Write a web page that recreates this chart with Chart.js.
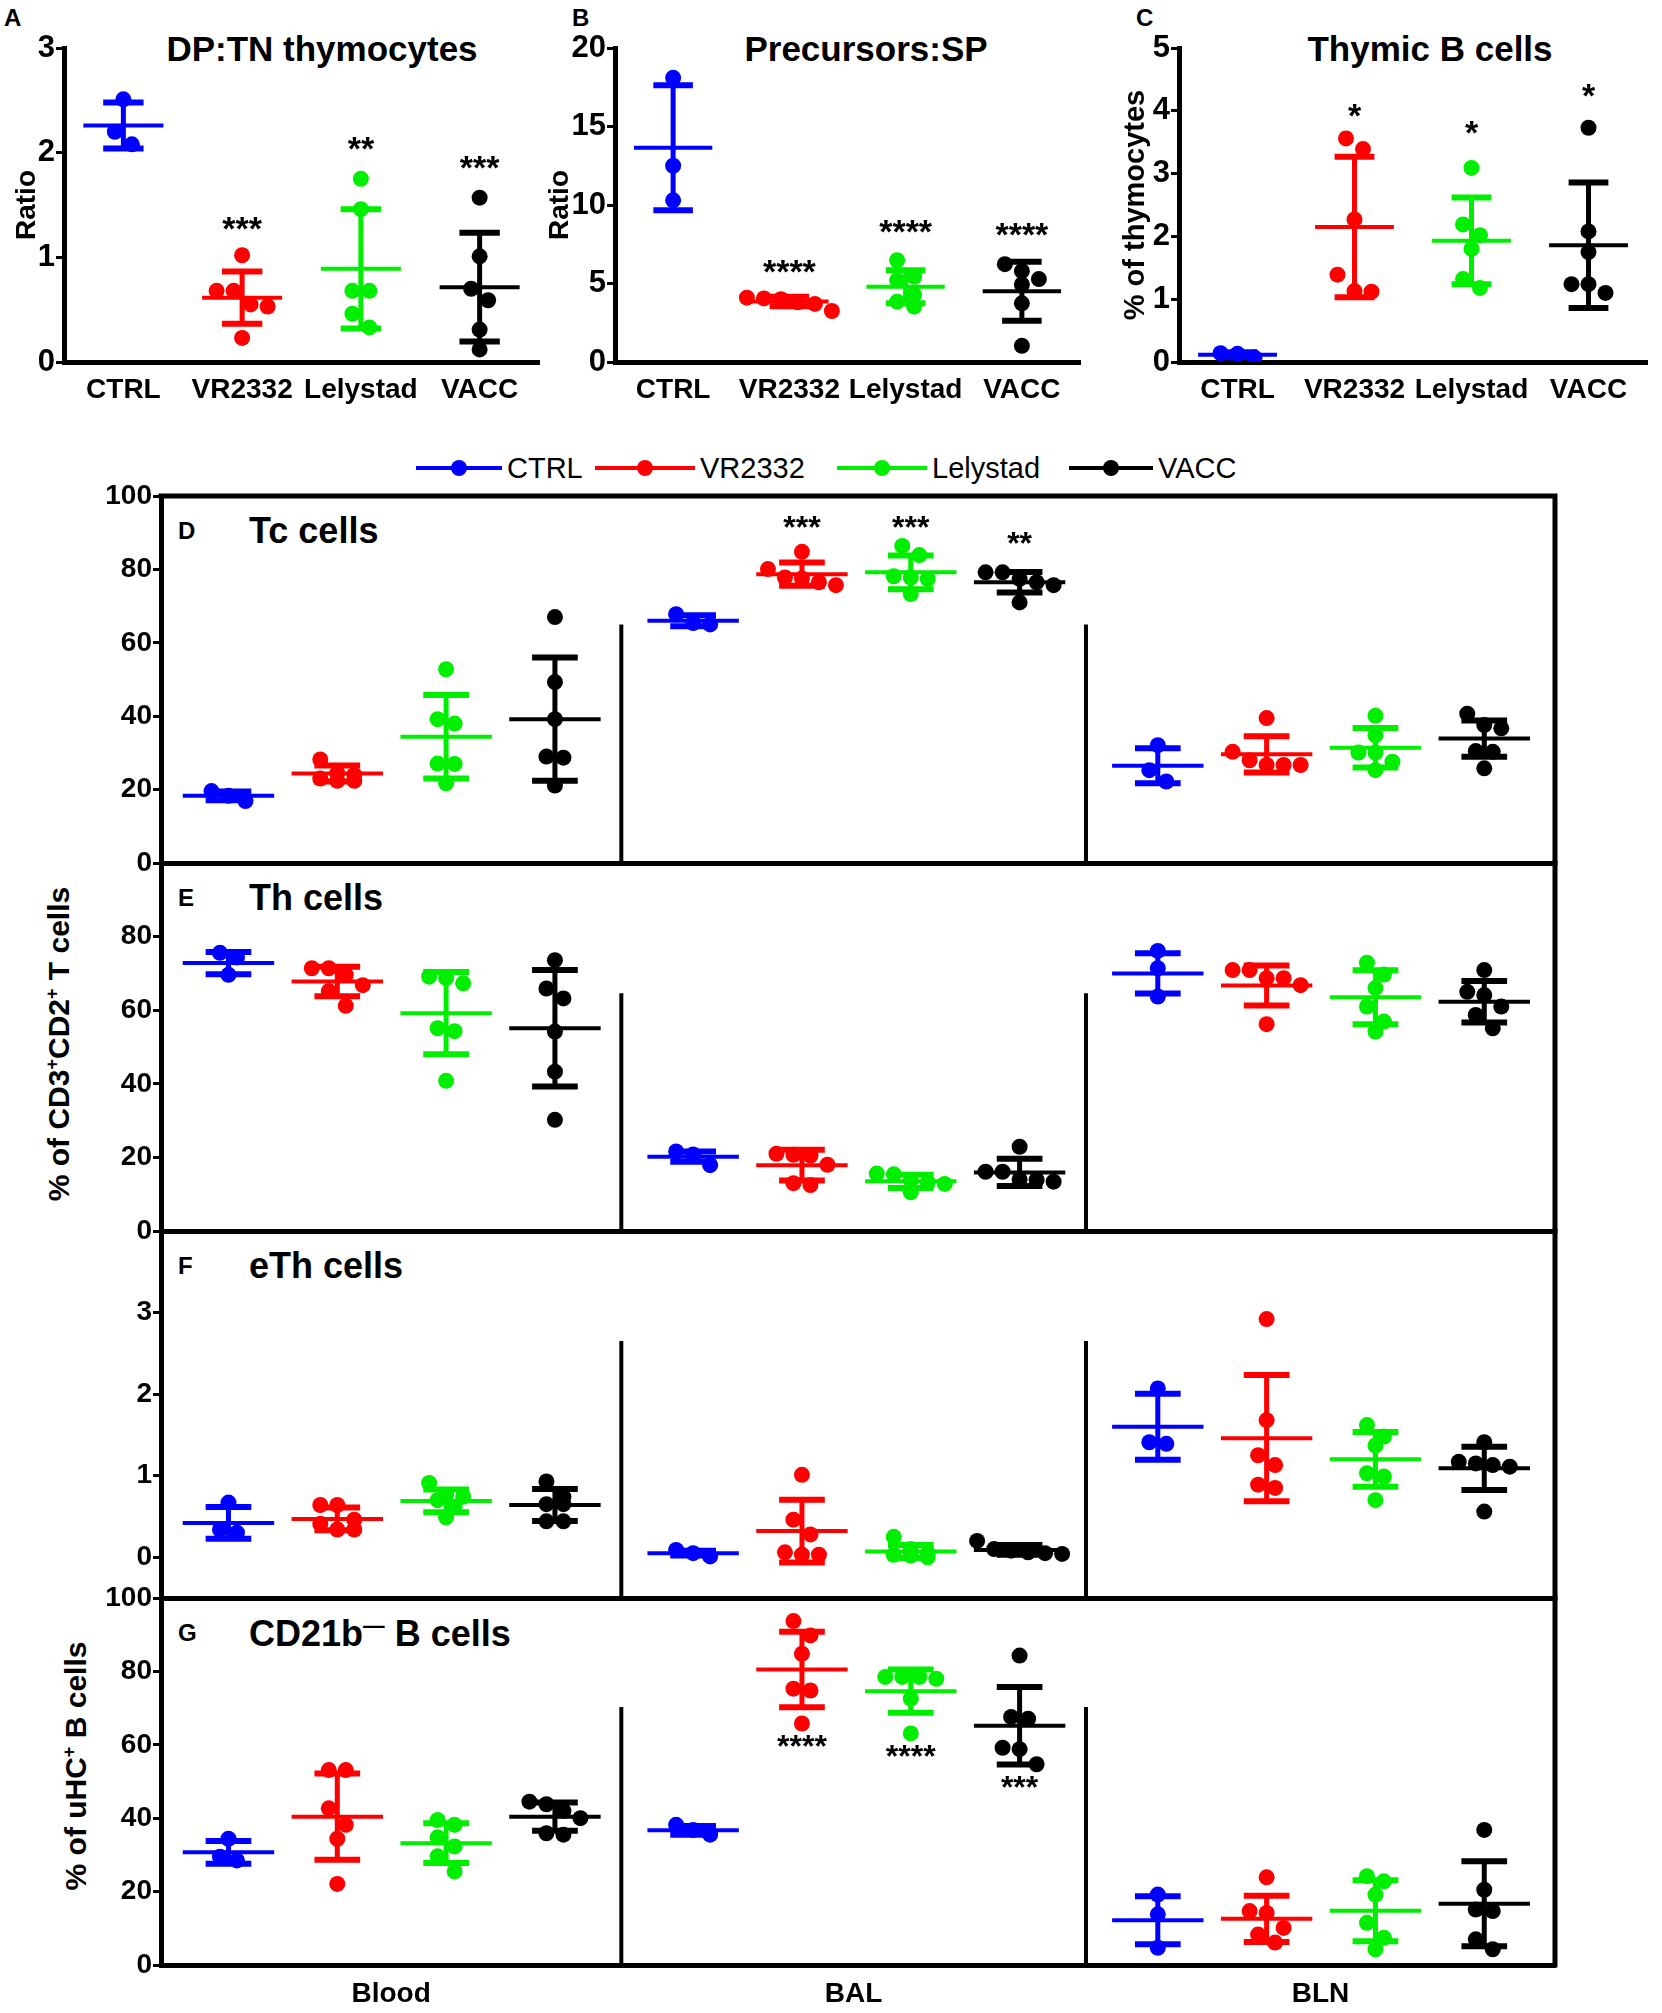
<!DOCTYPE html>
<html>
<head>
<meta charset="utf-8">
<script src="https://cdn.jsdelivr.net/npm/chart.js@4"></script>
<style>
  body { margin: 0; background: #fff; width: 1662px; height: 2013px; position: relative; overflow: hidden;
         font-family: 'Liberation Sans', Arial, sans-serif; color: #000; }
  canvas { position: absolute; }
  .t { position: absolute; font-weight: bold; white-space: nowrap; line-height: 1; }
  .c { transform: translate(-50%, -50%); }
  .v { transform: translate(-50%, -50%) rotate(-90deg); }
  .lg { position: absolute; top: 454px; height: 28px; display: flex; align-items: center; font-size: 29px; }
  .lg .ln { position: relative; height: 4px; margin-right: 5px; }
  .lg .ln i { position: absolute; left: 50%; top: -6px; margin-left: -8px; width: 16px; height: 16px; border-radius: 50%; }
  sup { font-size: 60%; }
</style>
</head>
<body>

<div class="t" style="left:4px;top:6px;font-size:24px">A</div>
<div class="t" style="left:572px;top:6px;font-size:24px">B</div>
<div class="t" style="left:1136px;top:6px;font-size:24px">C</div>
<div class="t c" style="left:322px;top:48px;font-size:35px">DP:TN thymocytes</div>
<div class="t c" style="left:866px;top:48px;font-size:35px">Precursors:SP</div>
<div class="t c" style="left:1430px;top:48px;font-size:35px">Thymic B cells</div>

<div class="lg" style="left:416px"><span class="ln" style="width:86px;background:#0000ff"><i style="background:#0000ff"></i></span>CTRL</div>
<div class="lg" style="left:595px"><span class="ln" style="width:100px;background:#ff0000"><i style="background:#ff0000"></i></span>VR2332</div>
<div class="lg" style="left:837px"><span class="ln" style="width:90px;background:#00ee00"><i style="background:#00ee00"></i></span>Lelystad</div>
<div class="lg" style="left:1069px"><span class="ln" style="width:84px;background:#000"><i style="background:#000"></i></span>VACC</div>

<div class="t" style="left:178px;top:519px;font-size:24px">D</div>
<div class="t" style="left:249px;top:513px;font-size:36px">Tc cells</div>
<div class="t" style="left:178px;top:886px;font-size:24px">E</div>
<div class="t" style="left:249px;top:880px;font-size:36px">Th cells</div>
<div class="t" style="left:178px;top:1254px;font-size:24px">F</div>
<div class="t" style="left:249px;top:1248px;font-size:36px">eTh cells</div>
<div class="t" style="left:178px;top:1621px;font-size:24px">G</div>
<div class="t" style="left:249px;top:1615px;font-size:36px">CD21b<sup>—</sup> B cells</div>

<div class="t v" style="left:58px;top:1044px;font-size:30px">% of CD3<sup>+</sup>CD2<sup>+</sup> T cells</div>
<div class="t v" style="left:75px;top:1766px;font-size:30px">% of uHC<sup>+</sup> B cells</div>

<script>
// groups and tissues
const groups = ['CTRL', 'VR2332', 'Lelystad', 'VACC'];
const tissues = ['Blood', 'BAL', 'BLN'];
const groupColors = ['#0000ff', '#ff0000', '#00ee00', '#000000'];

// A: DP:TN thymocytes (ratio)
const dpTnValues = [[2.51, 2.20, 2.08], [1.02, 0.68, 0.68, 0.55, 0.53, 0.23],
                    [1.75, 1.46, 0.68, 0.68, 0.46, 0.33], [1.57, 1.01, 0.70, 0.59, 0.31, 0.12]];
const dpTnMean = [2.26, 0.615, 0.89, 0.715];
const dpTnSd = [0.22, 0.25, 0.57, 0.52];
const dpTnStars = ['', '***', '**', '***'];
const dpTnStarY = [null, 1.29, 2.05, 1.875];

// B: Precursors:SP (ratio)
const precValues = [[18.1, 12.5, 10.3], [4.1, 4.05, 4.0, 3.8, 3.7, 3.25],
                    [6.48, 5.43, 5.2, 4.27, 3.84, 3.53], [6.23, 5.79, 5.28, 4.94, 3.74, 1.03]];
const precMean = [13.64, 3.85, 4.8, 4.5];
const precSd = [3.98, 0.3, 1.05, 1.88];
const precStars = ['', '****', '****', '****'];
const precStarY = [null, 5.85, 8.43, 8.2];

// C: Thymic B cells (% of thymocytes)
const thyBValues = [[0.14, 0.13, 0.07], [3.56, 3.39, 2.27, 1.39, 1.13, 1.12],
                    [3.09, 2.19, 2.02, 1.80, 1.32, 1.18], [3.73, 2.08, 1.75, 1.24, 1.24, 1.10]];
const thyBMean = [0.116, 2.15, 1.93, 1.86];
const thyBSd = [0.04, 1.12, 0.69, 1.0];
const thyBStars = ['', '*', '*', '*'];
const thyBStarY = [null, 3.95, 3.68, 4.26];

// D: Tc cells, [tissue][group]
const tcValues = [
  [[19.6, 18.3, 16.9], [28.2, 24.5, 24, 23, 22.4, 22.4], [52.8, 39.2, 38, 27.1, 27, 21.7], [67, 49.3, 39.2, 29, 28.7, 21.1]],
  [[67.8, 65.4, 65.0], [84.8, 80.1, 77.8, 77.5, 76.5, 75.7], [86.4, 83.9, 78.1, 77.8, 77.4, 73.3], [79.2, 79.2, 77.4, 76.5, 75.7, 71.0]],
  [[32.1, 25.3, 22.2], [39.5, 30.3, 28, 26.7, 26.7, 26.7], [40.1, 34.8, 30.1, 30.1, 27.6, 25.3], [40.7, 37.6, 36.7, 30.5, 30.3, 25.8]]
];
const tcMean = [[18.3, 24.4, 34.4, 39.2], [66, 78.7, 79.2, 76.5], [26.5, 29.6, 31.4, 33.9]];
const tcSd = [[1.2, 2.2, 11.4, 16.8], [1.5, 3.15, 4.6, 2.8], [4.75, 4.95, 5.4, 4.95]];
const tcStars = [['', '', '', ''], ['', '***', '***', '**'], ['', '', '', '']];
const tcStarY = [[null, null, null, null], [null, 92, 92, 87.5], [null, null, null, null]];

// E: Th cells
const thValues = [
  [[75.6, 74.3, 69.6], [71.4, 71.4, 69.6, 66.8, 65.2, 61.2], [69.1, 68.7, 67.3, 55.1, 54.3, 40.8], [73.6, 65.9, 63.2, 54.2, 43.3, 30.2]],
  [[21.6, 20.8, 17.9], [21, 20.7, 20.5, 18, 13, 12.5], [15.6, 15.4, 13.8, 13.2, 12.8, 10.5], [22.9, 16.1, 16.1, 14, 13.9, 13.4]],
  [[76.1, 71.4, 63.7], [70.9, 70.9, 68.7, 68.7, 66.8, 56.2], [72.9, 69.7, 66, 61, 56.9, 54.2], [70.9, 65, 64.1, 61, 58.7, 55.1]]
];
const thMean = [[72.8, 67.8, 59.2, 55.1], [20.2, 17.9, 13.5, 15.9], [70, 66.7, 63.5, 62.3]];
const thSd = [[3, 4, 11.2, 15.8], [1.4, 4.15, 1.8, 3.7], [5.45, 5.45, 7.35, 5.65]];

// F: eTh cells
const ethValues = [
  [[0.67, 0.34, 0.30], [0.64, 0.64, 0.46, 0.41, 0.34, 0.34], [0.91, 0.76, 0.74, 0.70, 0.62, 0.49], [0.93, 0.74, 0.65, 0.65, 0.44, 0.44]],
  [[0.09, 0.05, 0.01], [1.01, 0.46, 0.28, 0.06, 0.03, 0.03], [0.25, 0.10, 0.05, 0.03, 0.02, 0.0], [0.20, 0.10, 0.08, 0.06, 0.05, 0.04]],
  [[2.07, 1.41, 1.39], [2.92, 1.68, 1.25, 1.13, 0.89, 0.85], [1.62, 1.48, 1.37, 1.03, 0.99, 0.70], [1.41, 1.17, 1.15, 1.13, 1.11, 0.56]]
];
const ethMean = [[0.42, 0.47, 0.69, 0.64], [0.05, 0.32, 0.07, 0.09], [1.6, 1.46, 1.2, 1.09]];
const ethSd = [[0.195, 0.14, 0.14, 0.195], [0.03, 0.385, 0.08, 0.06], [0.405, 0.775, 0.335, 0.265]];

// G: CD21b- B cells
const cd21Values = [
  [[34.4, 29.5, 28.5], [53.1, 53.1, 42.7, 38.2, 34.4, 22.1], [39.5, 38.2, 34.8, 32.3, 29.6, 25.5], [44.5, 43.8, 42, 40, 35.9, 35.5]],
  [[38.2, 36.8, 35.5], [93.7, 89.8, 84.8, 75.3, 74.8, 65.8], [78.5, 78.5, 78.5, 78, 72.6, 63.1], [84.3, 67.6, 67.1, 59.2, 58.8, 54.7]],
  [[19.2, 13.8, 4.7], [23.9, 14.7, 14.2, 10.1, 8.3, 6.1], [24.2, 22.8, 19.2, 11.5, 7.4, 4.3], [36.8, 20.5, 15.1, 14.7, 7.0, 4.3]]
];
const cd21Mean = [[30.7, 40.4, 33.2, 40.4], [36.7, 80.5, 74.6, 65.2], [12.2, 12.6, 14.8, 16.7]];
const cd21Sd = [[3.1, 11.75, 5.4, 3.85], [1.2, 10.3, 5.9, 10.55], [6.55, 6.3, 8.3, 11.6]];
const cd21Stars = [['', '', '', ''], ['', '****', '****', '***'], ['', '', '', '']];
const cd21StarY = [[null, null, null, null], [null, 60.1, 57.2, 48.9], [null, null, null, null]];

// where the tissue separators start, per panel (in y units)
const sepTops = [65, 64.6, 2.65, 70.3];

// ---------- drawing ----------
const TW = 4.27;            // distance between tissue blocks on the x scale
const G0 = 0.62;            // first group centre inside a block
const SEP_X = [4.23, 8.50]; // tissue separators on the x scale
const DOT_R = 8;
const topFont = "'Liberation Sans', Arial, sans-serif";

// extra frame lines, tissue separators and significance stars
const extras = {
  id: 'extras',
  afterDatasetsDraw(chart, args, opts) {
    const { ctx, chartArea: a, scales: { x, y } } = chart;
    ctx.save();
    ctx.strokeStyle = '#000';
    ctx.fillStyle = '#000';
    if (opts.box) {
      ctx.lineWidth = 5;
      ctx.beginPath();
      ctx.moveTo(a.right, a.bottom + 2.5);
      ctx.lineTo(a.right, a.top - (opts.boxTop ? 0 : 2.5));
      if (opts.boxTop) ctx.lineTo(a.left - 2.5, a.top);
      ctx.stroke();
    }
    if (opts.separators) {
      ctx.lineWidth = 4;
      opts.separators.forEach(v => {
        const px = x.getPixelForValue(v);
        ctx.beginPath();
        ctx.moveTo(px, y.getPixelForValue(opts.sepTop));
        ctx.lineTo(px, a.bottom);
        ctx.stroke();
      });
    }
    if (opts.stars) {
      const size = opts.starSize || 30;
      ctx.font = 'bold ' + size + 'px ' + topFont;
      ctx.textAlign = 'center';
      ctx.textBaseline = 'alphabetic';
      opts.stars.forEach(s => {
        ctx.fillText(s.text, x.getPixelForValue(s.x), y.getPixelForValue(s.y) + size * 0.38);
      });
    }
    ctx.restore();
  }
};
Chart.register(extras);

// spread dots of similar value side by side (like a column scatter plot)
function swarm(vals, xPx, yPx, diam) {
  const order = vals.map((v, i) => i).sort((a, b) => vals[b] - vals[a]);
  const off = new Array(vals.length).fill(0);
  let row = [];
  const flush = () => {
    row.forEach((k, j) => { off[k] = (j - (row.length - 1) / 2) * diam / xPx; });
    row = [];
  };
  order.forEach(k => {
    if (row.length && (vals[row[0]] - vals[k]) * yPx >= diam) flush();
    row.push(k);
  });
  flush();
  return off;
}

function seg(color, width, p1, p2) {
  return { type: 'scatter', showLine: true, data: [p1, p2], borderColor: color, borderWidth: width,
           pointRadius: 0, pointHoverRadius: 0, borderCapStyle: 'butt', order: 0 };
}

function groupDatasets(s, mw, cw, xPx, yPx) {
  const off = swarm(s.values, xPx, yPx, DOT_R * 2 + 1);
  const hi = s.mean + s.sd, lo = s.mean - s.sd, c = s.center;
  return [
    { type: 'scatter', data: s.values.map((v, i) => ({ x: c + off[i], y: v })),
      backgroundColor: s.color, borderColor: s.color, pointRadius: DOT_R, pointHoverRadius: DOT_R,
      pointBorderWidth: 0, order: 1 },
    seg(s.color, 4, { x: c - mw, y: s.mean }, { x: c + mw, y: s.mean }),
    seg(s.color, 6, { x: c - cw, y: hi }, { x: c + cw, y: hi }),
    seg(s.color, 6, { x: c - cw, y: lo }, { x: c + cw, y: lo }),
    seg(s.color, 5, { x: c, y: hi }, { x: c, y: lo })
  ];
}

function build(spec) {
  const { box, plot } = spec;
  const cv = document.createElement('canvas');
  cv.width = box.width; cv.height = box.height;
  cv.style.left = box.left + 'px'; cv.style.top = box.top + 'px';
  document.body.appendChild(cv);
  const xPx = (plot.right - plot.left) / (spec.xMax - spec.xMin);
  const yPx = (plot.bottom - plot.top) / (spec.yMax - spec.yMin);
  let datasets = [];
  spec.series.forEach(s => { datasets = datasets.concat(groupDatasets(s, spec.mw, spec.cw, xPx, yPx)); });
  return new Chart(cv, {
    type: 'scatter',
    data: { datasets },
    options: {
      responsive: false,
      animation: false,
      events: [],
      layout: { autoPadding: false,
                padding: { left: 0, top: plot.top - box.top, right: box.left + box.width - plot.right, bottom: 0 } },
      plugins: {
        legend: { display: false },
        tooltip: { enabled: false },
        extras: { box: spec.box2, boxTop: spec.boxTop, separators: spec.separators, sepTop: spec.sepTop,
                  stars: spec.stars, starSize: spec.starSize }
      },
      scales: {
        x: {
          type: 'linear', min: spec.xMin, max: spec.xMax,
          afterFit(s) { s.height = box.top + box.height - plot.bottom; },
          afterBuildTicks(s) { s.ticks = spec.xTicks.map(v => ({ value: v })); },
          ticks: { display: !!spec.xLabels, autoSkip: false, maxRotation: 0, color: '#000', padding: spec.xPad,
                   font: { family: topFont, size: spec.xFont || 28, weight: 'bold' },
                   callback: (v, i) => spec.xLabels ? spec.xLabels[i] : '' },
          grid: { display: false },
          border: { display: true, width: 5, color: '#000' }
        },
        y: {
          min: spec.yMin, max: spec.yMax,
          afterFit(s) { s.width = plot.left - box.left; },
          afterBuildTicks(s) { s.ticks = spec.yTicks.map(v => ({ value: v })); },
          ticks: { color: '#000', padding: 1, font: { family: topFont, size: spec.yFont, weight: 'bold' },
                   callback: v => String(v) },
          grid: { display: true, drawOnChartArea: false, drawTicks: true, tickLength: 8, tickWidth: 3,
                  tickColor: '#000', color: '#000' },
          border: { display: true, width: 5, color: '#000' },
          title: spec.yTitle ? { display: true, text: spec.yTitle, color: '#000',
                                 padding: { top: spec.yTitlePad || 0, bottom: 0 },
                                 font: { family: topFont, size: spec.yTitleSize, weight: 'bold' } } : { display: false }
        }
      }
    }
  });
}

// ---------- top row: A, B, C ----------
function topSeries(values, mean, sd) {
  return groups.map((g, i) => ({ center: i, values: values[i], mean: mean[i], sd: sd[i], color: groupColors[i] }));
}
function topStars(texts, ys) {
  return texts.map((t, i) => ({ x: i, y: ys[i], text: t })).filter(s => s.text);
}
const topCommon = { xMin: -0.5, xMax: 3.5, xTicks: [0, 1, 2, 3], xLabels: groups, xPad: 3, mw: 0.337, cw: 0.17,
                    yMin: 0, yFont: 31, yTitleSize: 28, starSize: 34 };

build(Object.assign({}, topCommon, {
  box: { left: 0, top: 0, width: 560, height: 430 }, plot: { left: 64, top: 48, right: 539, bottom: 362 },
  yMax: 3, yTicks: [0, 1, 2, 3], yTitle: 'Ratio', yTitlePad: 10,
  series: topSeries(dpTnValues, dpTnMean, dpTnSd), stars: topStars(dpTnStars, dpTnStarY)
}));
build(Object.assign({}, topCommon, {
  box: { left: 530, top: 0, width: 570, height: 430 }, plot: { left: 615, top: 48, right: 1080, bottom: 362 },
  yMax: 20, yTicks: [0, 5, 10, 15, 20], yTitle: 'Ratio', yTitlePad: 13,
  series: topSeries(precValues, precMean, precSd), stars: topStars(precStars, precStarY)
}));
build(Object.assign({}, topCommon, {
  box: { left: 1100, top: 0, width: 562, height: 430 }, plot: { left: 1179, top: 48, right: 1647, bottom: 362 },
  yMax: 5, yTicks: [0, 1, 2, 3, 4, 5], yTitle: '% of thymocytes', yTitlePad: 19, yTitleSize: 29,
  series: topSeries(thyBValues, thyBMean, thyBSd), stars: topStars(thyBStars, thyBStarY)
}));

// ---------- bottom block: D, E, F, G ----------
function tissueSeries(values, mean, sd) {
  const out = [];
  tissues.forEach((t, ti) => groups.forEach((g, gi) => {
    out.push({ center: ti * TW + G0 + gi, values: values[ti][gi], mean: mean[ti][gi], sd: sd[ti][gi], color: groupColors[gi] });
  }));
  return out;
}
function tissueStars(texts, ys) {
  const out = [];
  tissues.forEach((t, ti) => groups.forEach((g, gi) => {
    if (texts[ti][gi]) out.push({ x: ti * TW + G0 + gi, y: ys[ti][gi], text: texts[ti][gi] });
  }));
  return out;
}

const panelTops = [496, 863, 1231, 1598, 1965];
const lowLeft = 161, lowRight = 1555;
const LOW_XMAX = 12.81;
function lowBox(p, extra) {
  return { left: 0, top: panelTops[p] - 30, width: 1662, height: panelTops[p + 1] - panelTops[p] + 30 + extra };
}
function lowPlot(p) {
  return { left: lowLeft, top: panelTops[p], right: lowRight, bottom: panelTops[p + 1] };
}
const lowCommon = { xMin: 0, xMax: LOW_XMAX, xTicks: [], mw: 0.42, cw: 0.21, box2: true,
                    separators: SEP_X, yFont: 28, starSize: 32 };
const blockEdges = [0, SEP_X[0], SEP_X[1], LOW_XMAX];

build(Object.assign({}, lowCommon, {
  box: lowBox(0, 24), plot: lowPlot(0), boxTop: true, sepTop: sepTops[0],
  yMin: 0, yMax: 100, yTicks: [0, 20, 40, 60, 80, 100],
  series: tissueSeries(tcValues, tcMean, tcSd), stars: tissueStars(tcStars, tcStarY)
}));
build(Object.assign({}, lowCommon, {
  box: lowBox(1, 24), plot: lowPlot(1), sepTop: sepTops[1],
  yMin: 0, yMax: 100, yTicks: [0, 20, 40, 60, 80],
  series: tissueSeries(thValues, thMean, thSd)
}));
build(Object.assign({}, lowCommon, {
  box: lowBox(2, 24), plot: lowPlot(2), sepTop: sepTops[2],
  yMin: -0.5, yMax: 4, yTicks: [0, 1, 2, 3],
  series: tissueSeries(ethValues, ethMean, ethSd)
}));
build(Object.assign({}, lowCommon, {
  box: lowBox(3, 48), plot: lowPlot(3), sepTop: sepTops[3],
  xTicks: tissues.map((t, i) => (blockEdges[i] + blockEdges[i + 1]) / 2), xLabels: tissues, xPad: 4,
  yMin: 0, yMax: 100, yTicks: [0, 20, 40, 60, 80, 100],
  series: tissueSeries(cd21Values, cd21Mean, cd21Sd), stars: tissueStars(cd21Stars, cd21StarY)
}));
</script>
</body>
</html>
